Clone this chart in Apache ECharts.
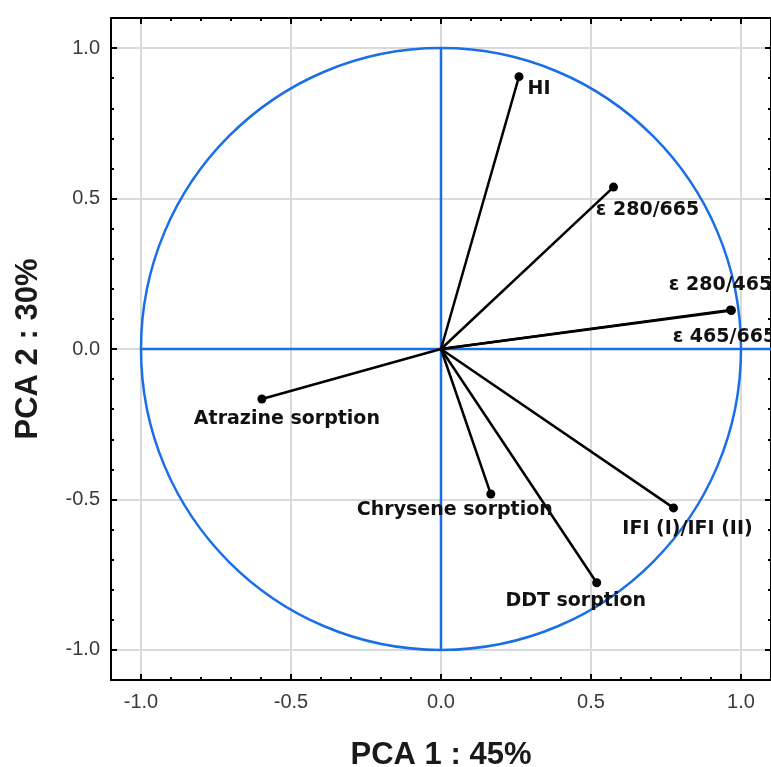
<!DOCTYPE html>
<html>
<head>
<meta charset="utf-8">
<script src="https://cdn.jsdelivr.net/npm/echarts@6/dist/echarts.min.js"></script>
<style>
  html, body { margin: 0; padding: 0; background: #fff; }
  .chart { width: 771px; height: 767px; }
</style>
</head>
<body>
<div class="chart"></div>
<script>
// variable loadings on the first two components
const varNames = ['HI', 'ε 280/665', 'ε 280/465', 'ε 465/665', 'Atrazine sorption',
    'Chrysene sorption', 'IFI (I)/IFI (II)', 'DDT sorption']
const pc1 = [0.26, 0.575, 0.965, 0.968, -0.597, 0.166, 0.775, 0.519]
const pc2 = [0.905, 0.538, 0.13, 0.128, -0.166, -0.482, -0.528, -0.777]
const majorTicks = [-1.0, -0.5, 0.0, 0.5, 1.0]
const axisMin = -1.1
const axisMax = 1.1
const circleRadius = 1

// where each label sits relative to its point (px)
const labelOffsets = [[20, 12], [34, 23], [-10, -25], [-7, 27], [25, 20], [-36, 16], [14, 21], [-21, 18]]

let myChart = echarts.init(document.querySelector('.chart'))

const blue = '#1a6ee6'
const tickFont = { fontFamily: 'Liberation Sans, Arial', fontSize: 20, color: '#3a3a3a' }
const titleFont = { fontFamily: 'Liberation Sans, Arial', fontSize: 31, fontWeight: 'bold', color: '#1a1a1a' }

function mainAxis(pos, withLabels, extra) {
    return Object.assign({
        type: 'value',
        position: pos,
        min: axisMin,
        max: axisMax,
        axisLine: { show: true, onZero: false, lineStyle: { color: '#000', width: 2 } },
        axisTick: { show: true, inside: true, length: 6, customValues: majorTicks, lineStyle: { color: '#000', width: 2 } },
        axisLabel: { show: false },
        splitLine: { show: withLabels, lineStyle: { color: '#dadada', width: 2 } }
    }, extra || {})
}

function minorAxis(pos) {
    return {
        type: 'value',
        position: pos,
        min: axisMin,
        max: axisMax,
        interval: 0.1,
        axisLine: { show: false, onZero: false },
        axisTick: { show: true, inside: true, length: 3, lineStyle: { color: '#000', width: 2 } },
        axisLabel: { show: false },
        splitLine: { show: false }
    }
}

const vectorSeries = varNames.map(function(name, i) {
    return {
        type: 'line',
        name: name,
        xAxisIndex: 0,
        yAxisIndex: 0,
        z: 5,
        silent: true,
        symbol: 'circle',
        symbolSize: 9,
        itemStyle: { color: '#000' },
        lineStyle: { color: '#000', width: 2.5 },
        data: [
            { value: [0, 0], symbol: 'none' },
            {
                value: [pc1[i], pc2[i]],
                label: {
                    show: true,
                    position: 'inside',
                    offset: labelOffsets[i],
                    formatter: name,
                    fontFamily: 'DejaVu Sans',
                    fontWeight: 'bold',
                    fontSize: 19,
                    color: '#111'
                }
            }
        ]
    }
})

option = {
    animation: false,
    grid: { left: 111, top: 18, right: 0, bottom: 87, containLabel: false, outerBoundsMode: 'none' },
    xAxis: [
        mainAxis('bottom', true, {
            name: 'PCA 1 : 45%',
            nameLocation: 'middle',
            nameGap: 60,
            nameTextStyle: titleFont,
            axisLabel: Object.assign({ show: true, customValues: majorTicks, margin: 12, formatter: v => v.toFixed(1) }, tickFont)
        }),
        mainAxis('top', false),
        minorAxis('bottom'),
        minorAxis('top')
    ],
    yAxis: [
        mainAxis('left', true, {
            name: 'PCA 2 : 30%',
            nameLocation: 'middle',
            nameGap: 67,
            nameTextStyle: titleFont,
            axisLabel: Object.assign({ show: true, customValues: majorTicks, margin: 11, formatter: v => v.toFixed(1) }, tickFont)
        }),
        mainAxis('right', false),
        minorAxis('left'),
        minorAxis('right')
    ],
    series: [{
        type: 'custom',
        xAxisIndex: 0,
        yAxisIndex: 0,
        silent: true,
        z: 3,
        data: [[0, 0]],
        renderItem: function(params, api) {
            const c = api.coord([0, 0])
            const s = api.size([circleRadius, circleRadius])
            const l = api.coord([-circleRadius, 0])
            const r = api.coord([axisMax, 0])
            const t = api.coord([0, circleRadius])
            const b = api.coord([0, -circleRadius])
            const st = { stroke: blue, lineWidth: 2.5, fill: null }
            return {
                type: 'group',
                children: [
                    { type: 'ellipse', shape: { cx: c[0], cy: c[1], rx: s[0], ry: s[1] }, style: st },
                    { type: 'line', shape: { x1: l[0], y1: l[1], x2: r[0], y2: r[1] }, style: st },
                    { type: 'line', shape: { x1: t[0], y1: t[1], x2: b[0], y2: b[1] }, style: st }
                ]
            }
        }
    }].concat(vectorSeries)
};
myChart.setOption(option);
</script>
</body>
</html>
